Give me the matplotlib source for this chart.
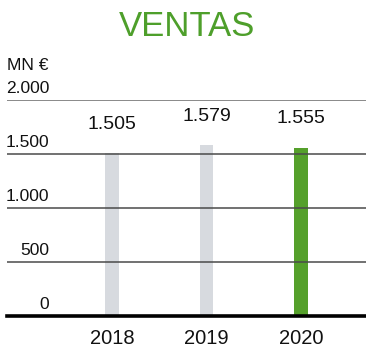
import matplotlib.pyplot as plt
import matplotlib.transforms as mtransforms

plt.rcParams['font.family'] = ['Liberation Sans', 'DejaVu Sans']

# Sales, millions of euros
years = ['2018', '2019', '2020']
ventas = [1505, 1579, 1555]
bar_colors = ['#d7dadf', '#d7dadf', '#55a02b']
yticks = [0, 500, 1000, 1500, 2000]
ytick_labels = ['0', '500', '1.000', '1.500', '2.000']

fig = plt.figure(figsize=(3.66, 3.47), dpi=100)
ax = fig.add_axes([7 / 366, 31 / 347, 359 / 366, 216 / 347])

x = list(range(len(years)))
ax.bar(x, ventas, width=0.14, color=bar_colors, zorder=1)
ax.set_xlim(-1.111, 2.688)
ax.set_ylim(0, 2000)

# horizontal rules
for v in yticks[1:]:
    ax.axhline(v, color='#4a4a4a' if v < 2000 else '#6a6a6a', lw=1.1, zorder=2)
ax.axhline(0, color='black', lw=2.6, zorder=3, clip_on=False)

# y labels sit just above each rule
trans = mtransforms.blended_transform_factory(ax.transAxes, ax.transData)
for v, lab in zip(yticks, ytick_labels):
    ax.annotate(lab, (0.117, v), xycoords=trans, xytext=(0, 3), textcoords='offset points',
                ha='right', va='bottom', fontsize=12.5, color='#111111')

# value labels
for xi, v in zip(x, ventas):
    ax.annotate(f'{v / 1000:.3f}', (xi, v), xytext=(0, 15), textcoords='offset points',
                ha='center', va='bottom', fontsize=14, color='#111111')

ax.set_xticks(x)
ax.set_xticklabels(years, fontsize=14.5, color='#111111')
ax.tick_params(axis='x', length=0, pad=9)
ax.set_yticks([])
for s in ax.spines.values():
    s.set_visible(False)

fig.text(7 / 366, 1 - 66 / 347, 'MN €', ha='left', va='center', fontsize=12.5, color='#111111')
fig.text(187 / 366, 1 - 27 / 347, 'VENTAS', ha='center', va='center', fontsize=25, color='#4e9f2b')

fig.savefig('out.png', dpi=100)
